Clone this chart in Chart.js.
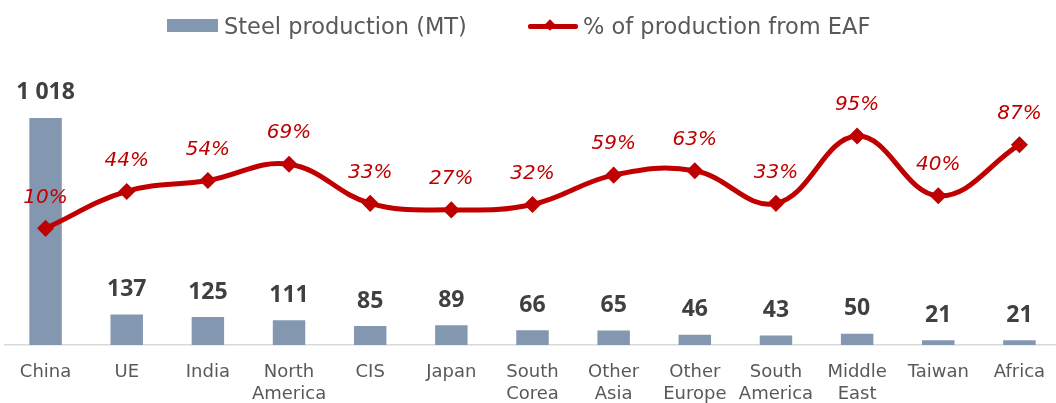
<!DOCTYPE html>
<html>
<head>
<meta charset="utf-8">
<script src="https://cdn.jsdelivr.net/npm/chart.js@4/dist/chart.umd.min.js"></script>
<style>
    html, body { margin: 0; padding: 0; background: #fff; overflow: hidden; }
    #wrap { position: relative; width: 1056px; height: 403px; overflow: hidden; }
    #legend { position: absolute; top: 10px; left: 0; width: 1056px; height: 32px; font-family: "DejaVu Sans", sans-serif; font-size: 22.5px; color: #595959; }
    .item { position: absolute; top: 0; height: 32px; line-height: 32px; white-space: nowrap; }
    .swatch { position: absolute; left: 167px; top: 9px; width: 51px; height: 13px; background: #8497B0; }
    .lineMark { position: absolute; left: 528px; top: 14px; width: 50px; height: 5px; background: #C00000; border-radius: 2px; }
    .diamond { position: absolute; left: 546px; top: 11px; width: 8px; height: 8px; background: #C00000; transform: rotate(45deg); }
    canvas { position: absolute; left: 0; top: 0; }
</style>
</head>
<body>
<div id="wrap">
    <canvas id="steelChart" width="1060" height="403"></canvas>
    <div id="legend">
        <div class="swatch"></div>
        <div class="item" style="left:224px">Steel production (MT)</div>
        <div class="lineMark"></div>
        <div class="diamond"></div>
        <div class="item" style="left:583px">% of production from EAF</div>
    </div>
</div>
<script>
// Regions, output in million tonnes and EAF share in percent
const regions = [
    'China', 'UE', 'India', ['North', 'America'], 'CIS', 'Japan', ['South', 'Corea'],
    ['Other', 'Asia'], ['Other', 'Europe'], ['South', 'America'], ['Middle', 'East'], 'Taiwan', 'Africa'
];
const production = [1018, 137, 125, 111, 85, 89, 66, 65, 46, 43, 50, 21, 21];
const eafShare = [10, 44, 54, 69, 33, 27, 32, 59, 63, 33, 95, 40, 87];

const withSpaces = (v) => String(v).replace(/\B(?=(\d{3})+(?!\d))/g, ' ');

// Value labels above bars and line points
const valueLabels = {
    id: 'valueLabels',
    afterDatasetsDraw(chart) {
        const ctx = chart.ctx;
        ctx.save();
        ctx.textAlign = 'center';
        ctx.textBaseline = 'middle';

        ctx.font = 'bold 23px "Open Sans", sans-serif';
        ctx.fillStyle = '#404040';
        chart.getDatasetMeta(0).data.forEach((bar, i) => {
            ctx.fillText(withSpaces(production[i]), bar.x, bar.y - 25);
        });

        ctx.font = 'italic 20px "DejaVu Sans", sans-serif';
        ctx.fillStyle = '#C00000';
        chart.getDatasetMeta(1).data.forEach((pt, i) => {
            ctx.fillText(eafShare[i] + '%', pt.x, pt.y - 31);
        });
        ctx.restore();
    }
};

const ctx = document.getElementById('steelChart').getContext('2d');
new Chart(ctx, {
    data: {
        labels: regions,
        datasets: [{
            type: 'bar',
            label: 'Steel production (MT)',
            data: production,
            backgroundColor: '#8497B0',
            barPercentage: 0.4,
            categoryPercentage: 1,
            yAxisID: 'y',
            order: 1,
        }, {
            type: 'line',
            label: '% of production from EAF',
            data: eafShare,
            borderColor: '#C00000',
            backgroundColor: '#C00000',
            borderWidth: 5,
            tension: 0.4,
            pointStyle: 'rectRot',
            pointRadius: 5,
            yAxisID: 'y1',
            order: 0,
        }],
    },
    options: {
        responsive: false,
        animation: false,
        layout: { autoPadding: false, padding: { top: 55, left: 5, right: 0, bottom: 0 } },
        plugins: {
            legend: { display: false },
            tooltip: { enabled: false },
        },
        scales: {
            x: {
                grid: { display: false, drawTicks: false },
                border: { display: true, color: '#d9d9d9', width: 1.5 },
                ticks: {
                    padding: 16,
                    color: '#595959',
                    font: { family: '"DejaVu Sans", sans-serif', size: 18, lineHeight: 1.22 },
                    maxRotation: 0,
                    autoSkip: false,
                },
                afterFit(scale) {
                    scale.height = 58;
                    scale.paddingLeft = 0;
                    scale.paddingRight = 0;
                },
            },
            y: { display: false, min: 0, max: 1300 },
            y1: { display: false, min: -97.4, max: 169.6 },
        },
    },
    plugins: [valueLabels],
});
</script>
</body>
</html>
